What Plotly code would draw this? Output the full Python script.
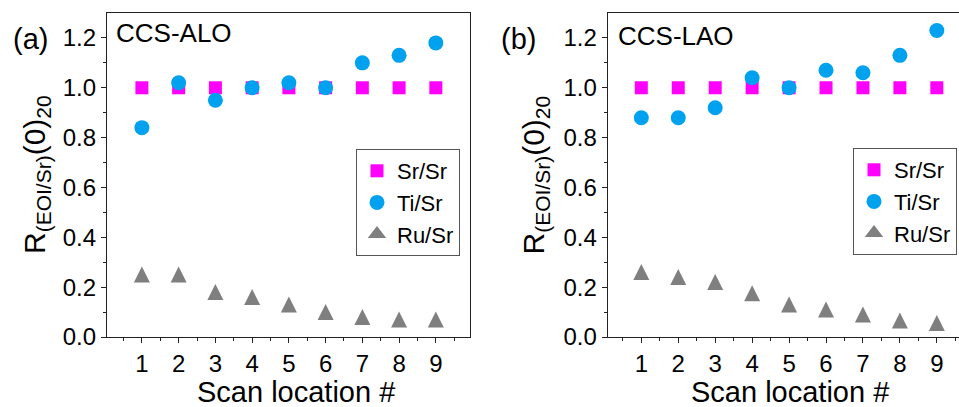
import plotly.graph_objects as go

scan = [1, 2, 3, 4, 5, 6, 7, 8, 9]

alo_sr = [1.0, 1.0, 1.0, 1.0, 1.0, 1.0, 1.0, 1.0, 1.0]
alo_ti = [0.84, 1.02, 0.95, 1.00, 1.02, 1.00, 1.10, 1.13, 1.18]
alo_ru = [0.24, 0.24, 0.17, 0.15, 0.12, 0.09, 0.07, 0.06, 0.06]

lao_sr = [1.0, 1.0, 1.0, 1.0, 1.0, 1.0, 1.0, 1.0, 1.0]
lao_ti = [0.88, 0.88, 0.92, 1.04, 1.00, 1.07, 1.06, 1.13, 1.23]
lao_ru = [0.25, 0.23, 0.21, 0.165, 0.12, 0.10, 0.08, 0.055, 0.045]

series_names = ["Sr/Sr", "Ti/Sr", "Ru/Sr"]
panel_labels = ["(a)", "(b)"]
sample_names = ["CCS-ALO", "CCS-LAO"]
x_title = "Scan location #"
y_title = "R<sub>(EOI/Sr)</sub>(0)<sub>20</sub>"
y_ticks = [0.0, 0.2, 0.4, 0.6, 0.8, 1.0, 1.2]

FONT = "Liberation Sans, Arial, sans-serif"
W, H = 959, 407
MAGENTA = "#FF00FF"
BLUE = "#00A2F0"
GRAY = "#7F7F7F"
TRI = 16

fig = go.Figure()

panels = [
    (alo_sr, alo_ti, alo_ru, "x", "y", "legend"),
    (lao_sr, lao_ti, lao_ru, "x2", "y2", "legend2"),
]
for sr, ti, ru, xa, ya, lg in panels:
    fig.add_trace(go.Scatter(x=scan, y=sr, mode="markers", name=series_names[0],
                             xaxis=xa, yaxis=ya, legend=lg,
                             marker=dict(symbol="square", size=13, color=MAGENTA,
                                         line=dict(width=0))))
    fig.add_trace(go.Scatter(x=scan, y=ti, mode="markers", name=series_names[1],
                             xaxis=xa, yaxis=ya, legend=lg,
                             marker=dict(symbol="circle", size=15, color=BLUE,
                                         line=dict(width=0))))
    # legend entry for the triangle series (plain triangle symbol)
    fig.add_trace(go.Scatter(x=[None], y=[None], mode="markers", name=series_names[2],
                             xaxis=xa, yaxis=ya, legend=lg, legendgroup="ru" + lg,
                             marker=dict(symbol="triangle-up", size=16, color=GRAY,
                                         line=dict(width=0))))
    # data: equilateral-looking triangle centred on its centroid
    fig.add_trace(go.Scatter(x=scan, y=ru, mode="markers", name=series_names[2],
                             xaxis=xa, yaxis=ya, legend=lg, legendgroup="ru" + lg,
                             showlegend=False,
                             marker=dict(symbol="arrow-down", angle=180,
                                         standoff=TRI * 2 / 3, size=TRI, color=GRAY,
                                         line=dict(width=0))))

def px_x(p):
    return p / W

def px_y(p):
    return 1 - p / H

ydom = [px_y(337), px_y(13)]

def xaxis(dom, rng):
    return dict(domain=dom, range=rng, tickmode="linear", tick0=1, dtick=1,
                ticks="outside", ticklen=5, tickwidth=1.3, tickcolor="#222",
                showline=True, linecolor="#222", linewidth=1.3, mirror=True,
                showgrid=False, zeroline=False, automargin=False,
                tickfont=dict(family=FONT, size=24, color="black"),
                minor=dict(ticks="outside", ticklen=3, tick0=0.5, dtick=0.5,
                           tickcolor="#222", tickwidth=1.3, showgrid=False))

def yaxis(anchor, mirror):
    return dict(domain=ydom, range=[0, 1.3], anchor=anchor,
                tickmode="array", tickvals=y_ticks,
                ticktext=["%.1f" % v for v in y_ticks],
                ticks="outside", ticklen=5, tickwidth=1.3, tickcolor="#222",
                showline=True, linecolor="#222", linewidth=1.3, mirror=mirror,
                showgrid=False, zeroline=False, automargin=False,
                tickfont=dict(family=FONT, size=24, color="black"),
                minor=dict(ticks="outside", ticklen=3, tickvals=[0.1, 0.3, 0.5, 0.7, 0.9, 1.1],
                           tickcolor="#222", tickwidth=1.3, showgrid=False))

leg_common = dict(font=dict(family=FONT, size=22, color="black"),
                  bgcolor="white", bordercolor="#555", borderwidth=1,
                  xanchor="right", yanchor="top", tracegroupgap=0,
                  itemwidth=30)

annotations = []
ann_pos = [
    dict(lab_x=30.5, samp_x=114, samp_y=33.5, xt=296, yt=37),
    dict(lab_x=518.5, samp_x=616, samp_y=36, xt=790, yt=535.5),
]
for i, ap in enumerate(ann_pos):
    annotations.append(dict(text=panel_labels[i], x=px_x(ap["lab_x"]), y=px_y(39),
                            xref="paper", yref="paper", xanchor="center", yanchor="middle",
                            showarrow=False, font=dict(family=FONT, size=29, color="black")))
    annotations.append(dict(text=sample_names[i], x=px_x(ap["samp_x"]), y=px_y(ap["samp_y"]),
                            xref="paper", yref="paper", xanchor="left", yanchor="middle",
                            showarrow=False, font=dict(family=FONT, size=26, color="black")))
    annotations.append(dict(text=x_title, x=px_x(ap["xt"]), y=px_y(392),
                            xref="paper", yref="paper", xanchor="center", yanchor="middle",
                            showarrow=False, font=dict(family=FONT, size=29, color="black")))
    annotations.append(dict(text=y_title, x=px_x(ap["yt"]), y=px_y(175), textangle=-90,
                            xref="paper", yref="paper", xanchor="center", yanchor="middle",
                            showarrow=False, font=dict(family=FONT, size=30, color="black")))

fig.update_layout(
    width=W, height=H,
    margin=dict(l=0, r=0, t=0, b=0, pad=0),
    paper_bgcolor="white", plot_bgcolor="white",
    xaxis=xaxis([px_x(107), px_x(470)], [0.05, 9.93]),
    yaxis=yaxis("x", True),
    xaxis2=xaxis([px_x(607.7), 1.0], [0.09, 9.60]),
    yaxis2=yaxis("x2", False),
    legend=dict(x=px_x(460), y=px_y(149), **leg_common),
    legend2=dict(x=px_x(957), y=px_y(148), **leg_common),
    annotations=annotations,
    showlegend=True,
)

fig.write_html("out.html")
